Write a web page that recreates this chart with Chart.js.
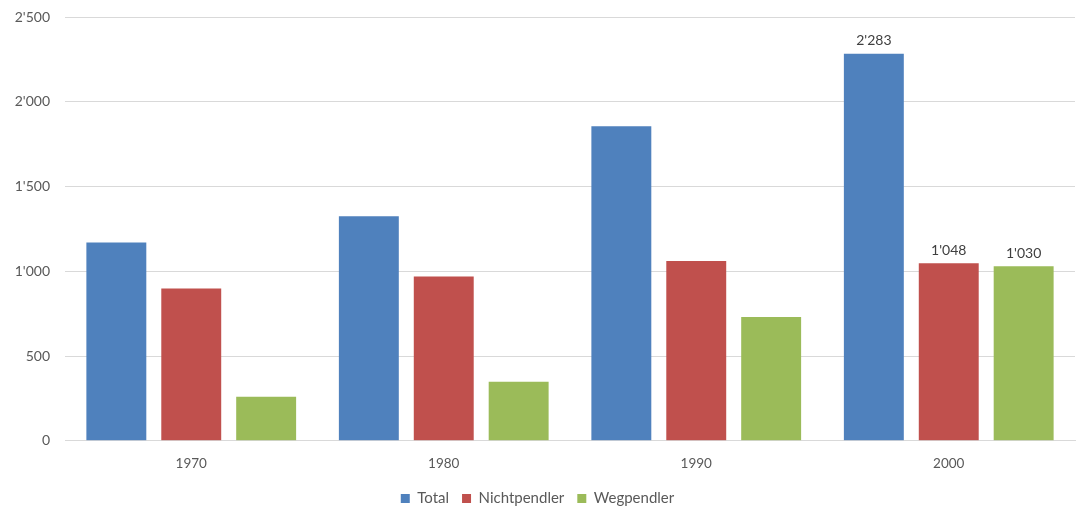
<!DOCTYPE html>
<html>
<head>
<meta charset="utf-8">
<script src="https://cdn.jsdelivr.net/npm/chart.js@4/dist/chart.umd.min.js"></script>
<style>
  html, body { margin: 0; padding: 0; background: #ffffff; }
  #wrap { width: 1077px; height: 508px; position: relative; }
</style>
</head>
<body>
<div id="wrap"><canvas id="c"></canvas></div>
<script>
// Erwerbstätige nach Pendlerstatus
const years = ['1970', '1980', '1990', '2000'];
const total = [1170, 1324, 1856, 2283];
const nichtpendler = [898, 969, 1060, 1048];
const wegpendler = [260, 349, 731, 1030];
const yTicks = [0, 500, 1000, 1500, 2000, 2500];
const labelledYear = '2000';

const fmt = v => String(v).replace(/\B(?=(\d{3})+(?!\d))/g, "'");
const FONT = 'Lato, "Open Sans", sans-serif';
const TEXT = '#595959';

// value labels above the bars of one year
const valueLabels = {
  id: 'valueLabels',
  afterDatasetsDraw(chart) {
    const ctx = chart.ctx;
    const idx = chart.data.labels.indexOf(labelledYear);
    if (idx < 0) return;
    ctx.save();
    ctx.font = '14px ' + FONT;
    ctx.fillStyle = '#404040';
    ctx.textAlign = 'center';
    ctx.textBaseline = 'bottom';
    chart.data.datasets.forEach((ds, i) => {
      const bar = chart.getDatasetMeta(i).data[idx];
      ctx.fillText(fmt(ds.data[idx]), bar.x, bar.y - 6);
    });
    ctx.restore();
  }
};

// push the legend row a little lower
const legendShift = {
  id: 'legendShift',
  afterLayout(chart) {
    if (chart.legend) { chart.legend.top += 8; chart.legend.bottom += 8; }
  }
};

new Chart(document.getElementById('c'), {
  type: 'bar',
  data: {
    labels: years,
    datasets: [
      { label: 'Total', data: total, backgroundColor: '#4F81BD' },
      { label: 'Nichtpendler', data: nichtpendler, backgroundColor: '#C0504D' },
      { label: 'Wegpendler', data: wegpendler, backgroundColor: '#9BBB59' }
    ]
  },
  options: {
    responsive: true,
    maintainAspectRatio: false,
    animation: false,
    devicePixelRatio: 1,
    layout: { padding: { top: 17, right: 2, left: 0, bottom: 0 } },
    datasets: { bar: { categoryPercentage: 0.89, barPercentage: 0.8 } },
    plugins: {
      legend: {
        position: 'bottom',
        labels: {
          boxWidth: 9, boxHeight: 9, padding: 13,
          color: TEXT, font: { family: FONT, size: 15 }
        }
      },
      tooltip: { enabled: false }
    },
    scales: {
      x: {
        afterFit(s) { s.height -= 9; },
        grid: { display: false },
        border: { color: '#d9d9d9' },
        ticks: { color: TEXT, font: { family: FONT, size: 13.5 }, padding: 7 }
      },
      y: {
        min: 0, max: 2500,
        afterFit(s) { s.width = 65; s.paddingTop = 0; },
        afterBuildTicks(s) { s.ticks = yTicks.map(v => ({ value: v })); },
        grid: { color: '#d9d9d9', drawTicks: false },
        border: { display: false },
        ticks: {
          color: TEXT, font: { family: FONT, size: 14 }, padding: 15,
          callback: v => fmt(v)
        }
      }
    }
  },
  plugins: [valueLabels, legendShift]
});
</script>
</body>
</html>
